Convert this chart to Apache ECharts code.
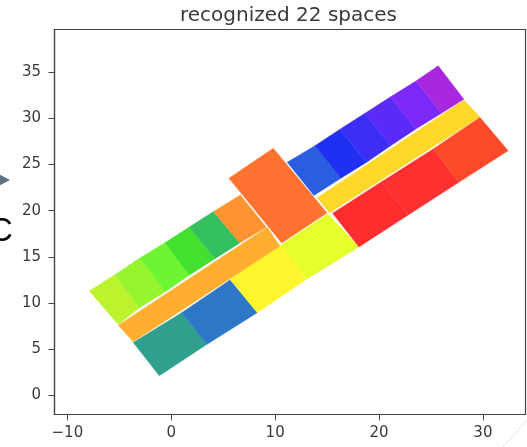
<!DOCTYPE html>
<html>
<head>
<meta charset="utf-8">
<style>
html,body{margin:0;padding:0;background:#fff;overflow:hidden}
#c{width:527px;height:447px;filter:blur(0.5px)}
</style>
<script src="https://cdn.jsdelivr.net/npm/echarts@6/dist/echarts.min.js"></script>
</head>
<body>
<div id="c"></div>
<script>
const titleText = 'recognized 22 spaces';
const xTicks = [-10, 0, 10, 20, 30];
const yTicks = [0, 5, 10, 15, 20, 25, 30, 35];

// each space: four corners as x, y pairs
const lowerRow = [
  [-3.66, 5.73, 1.00, 8.97, 3.41, 5.51, -1.15, 2.13],
  [1.00, 8.97, 5.65, 12.51, 8.28, 8.97, 3.41, 5.51],
  [5.65, 12.62, 10.56, 16.30, 13.06, 12.62, 8.28, 8.97],
  [10.56, 16.30, 15.08, 19.65, 18.07, 16.08, 13.06, 12.62],
  [15.53, 19.72, 20.25, 23.14, 22.81, 19.54, 18.07, 16.08],
  [20.25, 23.14, 25.22, 26.68, 27.69, 23.08, 22.81, 19.54],
  [25.22, 26.68, 29.71, 30.10, 32.43, 26.49, 27.69, 23.08]
];
const upperRightRow = [
  [11.16, 25.24, 13.83, 27.03, 16.33, 23.51, 13.73, 21.63],
  [13.83, 27.03, 16.24, 28.81, 18.81, 25.24, 16.33, 23.51],
  [16.24, 28.81, 18.64, 30.54, 21.12, 27.03, 18.81, 25.24],
  [18.64, 30.54, 21.12, 32.33, 23.55, 28.84, 21.12, 27.03],
  [21.12, 32.33, 23.55, 34.03, 26.02, 30.54, 23.55, 28.84],
  [23.55, 34.03, 25.70, 35.68, 28.17, 32.05, 26.02, 30.54]
];
const upperLeftRow = [
  [-7.89, 11.32, -5.42, 13.08, -3.08, 9.48, -5.10, 7.68],
  [-5.42, 13.08, -3.01, 14.89, -0.61, 11.21, -3.08, 9.48],
  [-3.01, 14.89, -0.61, 16.54, 1.73, 13.02, -0.61, 11.21],
  [-0.61, 16.54, 1.73, 18.24, 4.21, 14.81, 1.73, 13.02],
  [1.73, 18.24, 4.06, 19.90, 6.61, 16.51, 4.21, 14.81],
  [4.06, 19.90, 6.65, 21.70, 9.15, 18.21, 6.61, 16.51]
];
const rightStrip = [14.05, 21.40, 28.17, 31.97, 29.71, 30.14, 15.23, 19.76];
const leftStrip = [-5.10, 7.61, 9.25, 18.20, 10.45, 16.15, -3.66, 5.81];
const centerSpace = [5.55, 23.51, 9.82, 26.75, 14.99, 19.76, 10.63, 16.51];

const lowerRowColors = ['#2FA08E', '#2E76C6', '#FFF52C', '#E4FF2C', '#FF2D2D', '#FF3030', '#FF4A2A'];
const upperRightColors = ['#2A5EE0', '#1F30F2', '#3A2EF5', '#5A2AF6', '#7C28F6', '#A828E0'];
const upperLeftColors = ['#BBF32C', '#96F52E', '#6CF530', '#44E030', '#34C060', '#FF9430'];
const rightStripColor = '#FFD829';
const leftStripColor = '#FFAE30';
const centerColor = '#FF7230';

const polygons = [...lowerRow, ...upperRightRow, ...upperLeftRow, rightStrip, leftStrip, centerSpace];
const colors = [...lowerRowColors, ...upperRightColors, ...upperLeftColors, rightStripColor, leftStripColor, centerColor];

const textColor = '#3a3a3a';
const frameColor = '#444';
const font = '"DejaVu Sans"';
const minus = v => String(v).replace('-', '\u2212');

const chart = echarts.init(document.getElementById('c'), null, {renderer: 'canvas'});
chart.setOption({
  animation: false,
  backgroundColor: '#fff',
  title: {
    text: titleText, left: 283.5, top: 1, textAlign: 'center',
    textStyle: {fontFamily: font, fontSize: 20, fontWeight: 'normal', color: textColor}
  },
  grid: {left: 54.5, right: 1.5, top: 29.5, bottom: 32.5, show: true, borderColor: frameColor, borderWidth: 1.2, backgroundColor: '#fff'},
  xAxis: {
    type: 'value', min: -11.24, max: 34.1, position: 'bottom',
    splitLine: {show: false},
    axisLine: {show: true, onZero: false, lineStyle: {color: frameColor, width: 1.2}},
    axisTick: {show: true, length: 6, customValues: xTicks, lineStyle: {color: frameColor, width: 1}},
    axisLabel: {customValues: xTicks, formatter: minus, margin: 11, fontFamily: font, fontSize: 15, color: textColor, hideOverlap: false}
  },
  yAxis: {
    type: 'value', min: -2.05, max: 39.6, position: 'left',
    splitLine: {show: false},
    axisLine: {show: true, onZero: false, lineStyle: {color: frameColor, width: 1.2}},
    axisTick: {show: true, length: 6, customValues: yTicks, lineStyle: {color: frameColor, width: 1}},
    axisLabel: {customValues: yTicks, formatter: minus, margin: 13.5, fontFamily: font, fontSize: 15, color: textColor, hideOverlap: false}
  },
  series: [{
    type: 'custom',
    coordinateSystem: 'cartesian2d',
    encode: {x: [0, 2, 4, 6], y: [1, 3, 5, 7]},
    data: polygons,
    renderItem: (params, api) => ({
      type: 'polygon',
      shape: {points: [0, 2, 4, 6].map(i => api.coord([api.value(i), api.value(i + 1)]))},
      style: {fill: colors[params.dataIndex], stroke: colors[params.dataIndex], lineWidth: 0.4}
    })
  }],
  graphic: [
    {type: 'polygon', shape: {points: [[-4, 172.5], [10, 180], [-4, 187.5]]}, style: {fill: '#5C7282'}, z: 10},
    {type: 'text', x: -11, y: 215, style: {text: 'C', fontFamily: '"Liberation Sans"', fontSize: 33, fill: '#000'}, z: 10},
    {type: 'line', shape: {x1: 527, y1: 420, x2: 503, y2: 447}, style: {stroke: '#e2e2e2', lineWidth: 1}, z: 10}
  ]
});
</script>
</body>
</html>
